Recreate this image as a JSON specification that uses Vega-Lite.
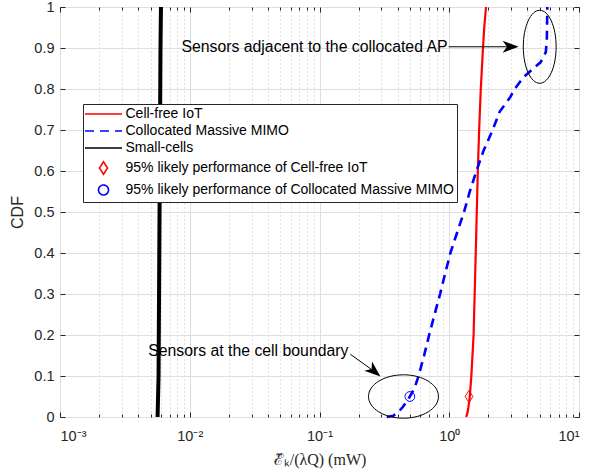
{
  "$schema": "https://vega.github.io/schema/vega-lite/v6.json",
  "width": 519,
  "height": 410,
  "autosize": {"type": "none"},
  "padding": {"left": 60, "top": 7, "right": 15, "bottom": 59},
  "background": "white",
  "config": {
    "view": {"stroke": "#262626", "strokeWidth": 1},
    "axis": {"domain": false, "labelFont": "Liberation Sans", "labelFontSize": 14.5, "labelColor": "#262626", "tickColor": "#262626", "titleColor": "#262626", "gridColor": "#dedede", "gridWidth": 1}
  },
  "datasets": {
    "curves": [
      {"series": "Cell-free IoT", "x": 1.35, "cdf": 0},
      {"series": "Cell-free IoT", "x": 1.38, "cdf": 0.01},
      {"series": "Cell-free IoT", "x": 1.40, "cdf": 0.02},
      {"series": "Cell-free IoT", "x": 1.44, "cdf": 0.05},
      {"series": "Cell-free IoT", "x": 1.48, "cdf": 0.1},
      {"series": "Cell-free IoT", "x": 1.51, "cdf": 0.15},
      {"series": "Cell-free IoT", "x": 1.54, "cdf": 0.2},
      {"series": "Cell-free IoT", "x": 1.57, "cdf": 0.3},
      {"series": "Cell-free IoT", "x": 1.60, "cdf": 0.4},
      {"series": "Cell-free IoT", "x": 1.63, "cdf": 0.5},
      {"series": "Cell-free IoT", "x": 1.66, "cdf": 0.6},
      {"series": "Cell-free IoT", "x": 1.70, "cdf": 0.7},
      {"series": "Cell-free IoT", "x": 1.75, "cdf": 0.8},
      {"series": "Cell-free IoT", "x": 1.82, "cdf": 0.9},
      {"series": "Cell-free IoT", "x": 1.86, "cdf": 0.95},
      {"series": "Cell-free IoT", "x": 1.92, "cdf": 1.0},
      {"series": "Collocated Massive MIMO", "x": 0.33, "cdf": 0},
      {"series": "Collocated Massive MIMO", "x": 0.37, "cdf": 0.003},
      {"series": "Collocated Massive MIMO", "x": 0.40, "cdf": 0.01},
      {"series": "Collocated Massive MIMO", "x": 0.44, "cdf": 0.025},
      {"series": "Collocated Massive MIMO", "x": 0.497, "cdf": 0.05},
      {"series": "Collocated Massive MIMO", "x": 0.54, "cdf": 0.07},
      {"series": "Collocated Massive MIMO", "x": 0.58, "cdf": 0.1},
      {"series": "Collocated Massive MIMO", "x": 0.64, "cdf": 0.15},
      {"series": "Collocated Massive MIMO", "x": 0.70, "cdf": 0.2},
      {"series": "Collocated Massive MIMO", "x": 0.77, "cdf": 0.25},
      {"series": "Collocated Massive MIMO", "x": 0.85, "cdf": 0.3},
      {"series": "Collocated Massive MIMO", "x": 0.93, "cdf": 0.35},
      {"series": "Collocated Massive MIMO", "x": 1.02, "cdf": 0.4},
      {"series": "Collocated Massive MIMO", "x": 1.15, "cdf": 0.45},
      {"series": "Collocated Massive MIMO", "x": 1.30, "cdf": 0.5},
      {"series": "Collocated Massive MIMO", "x": 1.44, "cdf": 0.55},
      {"series": "Collocated Massive MIMO", "x": 1.62, "cdf": 0.6},
      {"series": "Collocated Massive MIMO", "x": 1.84, "cdf": 0.65},
      {"series": "Collocated Massive MIMO", "x": 2.16, "cdf": 0.7},
      {"series": "Collocated Massive MIMO", "x": 2.45, "cdf": 0.745},
      {"series": "Collocated Massive MIMO", "x": 2.95, "cdf": 0.78},
      {"series": "Collocated Massive MIMO", "x": 3.2, "cdf": 0.8},
      {"series": "Collocated Massive MIMO", "x": 3.76, "cdf": 0.83},
      {"series": "Collocated Massive MIMO", "x": 4.45, "cdf": 0.85},
      {"series": "Collocated Massive MIMO", "x": 5.05, "cdf": 0.865},
      {"series": "Collocated Massive MIMO", "x": 5.55, "cdf": 0.89},
      {"series": "Collocated Massive MIMO", "x": 5.65, "cdf": 0.92},
      {"series": "Collocated Massive MIMO", "x": 5.70, "cdf": 1.0},
      {"series": "Small-cells", "x": 0.00565, "cdf": 0},
      {"series": "Small-cells", "x": 0.0057, "cdf": 0.05},
      {"series": "Small-cells", "x": 0.00575, "cdf": 0.1},
      {"series": "Small-cells", "x": 0.0058, "cdf": 0.3},
      {"series": "Small-cells", "x": 0.00585, "cdf": 0.5},
      {"series": "Small-cells", "x": 0.0059, "cdf": 0.7},
      {"series": "Small-cells", "x": 0.00595, "cdf": 0.9},
      {"series": "Small-cells", "x": 0.006, "cdf": 1.0}
    ],
    "mk_cf": [{"series": "95% likely performance of Cell-free IoT", "x": 1.42, "cdf": 0.05}],
    "mk_cm": [{"series": "95% likely performance of Collocated Massive MIMO", "x": 0.497, "cdf": 0.05}],
    "ell_bottom": [{"x": 0.444, "cdf": 0.05}],
    "ell_top": [{"x": 4.98, "cdf": 0.903}],
    "arrows": [
      {"x": 0.99, "cdf": 0.903, "x2": 2.97, "cdf2": 0.903},
      {"x": 0.173, "cdf": 0.153, "x2": 0.262, "cdf2": 0.112}
    ],
    "head_top": [{"x": 2.97, "cdf": 0.903}],
    "head_bottom": [{"x": 0.2645, "cdf": 0.1115}],
    "notes": [
      {"label": "Sensors adjacent to the collocated AP", "x": 0.97, "cdf": 0.903},
      {"label": "Sensors at the cell boundary", "x": 0.167, "cdf": 0.16}
    ]
  },
  "resolve": {"axis": {"x": "independent", "y": "independent"}},
  "layer": [
    {
      "data": {"name": "curves"},
      "transform": [{"filter": "datum.series === 'Cell-free IoT'"}],
      "mark": {"type": "line", "strokeWidth": 2.2},
      "encoding": {
        "x": {"field": "x", "type": "quantitative",
          "scale": {"type": "log", "domain": [0.001, 10], "nice": false},
          "axis": {"orient": "bottom", "values": [0.001, 0.01, 0.1, 1, 10], "ticks": false, "grid": true, "labelPadding": 12,
            "labelExpr": "datum.value < 0.005 ? '10⁻³' : datum.value < 0.05 ? '10⁻²' : datum.value < 0.5 ? '10⁻¹' : datum.value < 5 ? '10⁰' : '10¹'",
            "title": "ℰ̃ₖ/(λQ) (mW)", "titleFont": "Liberation Serif", "titleFontSize": 16, "titleFontWeight": "normal", "titlePadding": 9}},
        "y": {"field": "cdf", "type": "quantitative",
          "scale": {"domain": [0, 1], "nice": false},
          "axis": {"orient": "left", "values": [0, 0.1, 0.2, 0.3, 0.4, 0.5, 0.6, 0.7, 0.8, 0.9, 1], "format": "~g", "ticks": false, "grid": true, "labelPadding": 6,
            "title": "CDF", "titleFont": "Liberation Sans", "titleFontSize": 16, "titleFontWeight": "normal", "titlePadding": 8}},
        "color": {"field": "series", "type": "nominal",
          "scale": {"domain": ["Cell-free IoT", "Collocated Massive MIMO", "Small-cells", "95% likely performance of Cell-free IoT", "95% likely performance of Collocated Massive MIMO"],
                    "range": ["#ff0000", "#0000ff", "#000000", "#ff0000", "#0000ff"]},
          "legend": {"orient": "none", "legendX": 23, "legendY": 97, "title": null, "padding": 3, "rowPadding": 3,
            "labelFont": "Liberation Sans", "labelFontSize": 14, "labelColor": "#000000", "labelLimit": 500,
            "strokeColor": "#262626", "fillColor": "white", "cornerRadius": 0,
            "symbolSize": 100, "symbolStrokeWidth": 1.6, "symbolOffset": 10.5, "labelOffset": 15}},
        "strokeDash": {"field": "series", "type": "nominal",
          "scale": {"domain": ["Cell-free IoT", "Collocated Massive MIMO", "Small-cells", "95% likely performance of Cell-free IoT", "95% likely performance of Collocated Massive MIMO"],
                    "range": [[1, 0], [9, 6], [1, 0], [1, 0], [1, 0]]}},
        "order": {"field": "cdf", "type": "quantitative"}
      }
    },
    {
      "data": {"name": "curves"},
      "transform": [{"filter": "datum.series === 'Collocated Massive MIMO'"}],
      "mark": {"type": "line", "strokeWidth": 2.6},
      "encoding": {
        "x": {"field": "x", "type": "quantitative",
          "axis": {"orient": "bottom", "values": [0.002, 0.003, 0.004, 0.005, 0.006, 0.007, 0.008, 0.009, 0.02, 0.03, 0.04, 0.05, 0.06, 0.07, 0.08, 0.09, 0.2, 0.3, 0.4, 0.5, 0.6, 0.7, 0.8, 0.9, 2, 3, 4, 5, 6, 7, 8, 9], "labels": false, "grid": true, "gridDash": [1, 3], "gridColor": "#c4c4c4", "ticks": true, "tickSize": -3, "title": null}},
        "y": {"field": "cdf", "type": "quantitative",
          "axis": {"orient": "right", "values": [0, 0.1, 0.2, 0.3, 0.4, 0.5, 0.6, 0.7, 0.8, 0.9, 1], "labels": false, "grid": false, "ticks": true, "tickSize": -5, "title": null}},
        "color": {"field": "series", "type": "nominal"},
        "strokeDash": {"field": "series", "type": "nominal"},
        "order": {"field": "cdf", "type": "quantitative"}
      }
    },
    {
      "data": {"name": "curves"},
      "transform": [{"filter": "datum.series === 'Small-cells'"}],
      "mark": {"type": "line", "strokeWidth": 4},
      "encoding": {
        "x": {"field": "x", "type": "quantitative",
          "axis": {"orient": "bottom", "values": [0.001, 0.01, 0.1, 1, 10], "labels": false, "grid": false, "ticks": true, "tickSize": -5, "title": null}},
        "y": {"field": "cdf", "type": "quantitative",
          "axis": {"orient": "left", "values": [0, 0.1, 0.2, 0.3, 0.4, 0.5, 0.6, 0.7, 0.8, 0.9, 1], "labels": false, "grid": false, "ticks": true, "tickSize": -5, "title": null}},
        "color": {"field": "series", "type": "nominal"},
        "strokeDash": {"field": "series", "type": "nominal"},
        "order": {"field": "cdf", "type": "quantitative"}
      }
    },
    {
      "data": {"name": "mk_cf"},
      "mark": {"type": "point", "filled": false, "size": 95, "strokeWidth": 1, "opacity": 1},
      "encoding": {
        "x": {"field": "x", "type": "quantitative",
          "axis": {"orient": "top", "values": [0.001, 0.01, 0.1, 1, 10], "labels": false, "grid": false, "ticks": true, "tickSize": -5, "title": null}},
        "y": {"field": "cdf", "type": "quantitative", "axis": null},
        "color": {"field": "series", "type": "nominal"},
        "shape": {"field": "series", "type": "nominal",
          "scale": {"domain": ["Cell-free IoT", "Collocated Massive MIMO", "Small-cells", "95% likely performance of Cell-free IoT", "95% likely performance of Collocated Massive MIMO"],
                    "range": ["M -3.7 0 L 3.7 0", "M -3.7 0 L 3.7 0", "M -3.7 0 L 3.7 0", "M 0 -1.25 L 0.8 0 L 0 1.25 L -0.8 0 Z", "circle"]}}
      }
    },
    {
      "data": {"name": "mk_cm"},
      "mark": {"type": "point", "filled": false, "size": 95, "strokeWidth": 1, "opacity": 1},
      "encoding": {
        "x": {"field": "x", "type": "quantitative",
          "axis": {"orient": "top", "values": [0.002, 0.003, 0.004, 0.005, 0.006, 0.007, 0.008, 0.009, 0.02, 0.03, 0.04, 0.05, 0.06, 0.07, 0.08, 0.09, 0.2, 0.3, 0.4, 0.5, 0.6, 0.7, 0.8, 0.9, 2, 3, 4, 5, 6, 7, 8, 9], "labels": false, "grid": false, "ticks": true, "tickSize": -3, "title": null}},
        "y": {"field": "cdf", "type": "quantitative", "axis": null},
        "color": {"field": "series", "type": "nominal"},
        "shape": {"field": "series", "type": "nominal"}
      }
    },
    {
      "data": {"name": "ell_bottom"},
      "mark": {"type": "point", "filled": false, "shape": "M -1 0 A 1 0.62 0 1 0 1 0 A 1 0.62 0 1 0 -1 0 Z", "size": 4900, "stroke": "#000000", "strokeWidth": 1, "opacity": 1},
      "encoding": {
        "x": {"field": "x", "type": "quantitative", "axis": null},
        "y": {"field": "cdf", "type": "quantitative", "axis": null}
      }
    },
    {
      "data": {"name": "ell_top"},
      "mark": {"type": "point", "filled": false, "shape": "M 0 -1 A 0.45 1 0 1 0 0 1 A 0.45 1 0 1 0 0 -1 Z", "size": 5329, "stroke": "#000000", "strokeWidth": 1, "opacity": 1},
      "encoding": {
        "x": {"field": "x", "type": "quantitative", "axis": null},
        "y": {"field": "cdf", "type": "quantitative", "axis": null}
      }
    },
    {
      "data": {"name": "arrows"},
      "mark": {"type": "rule", "color": "#000000", "strokeWidth": 1},
      "encoding": {
        "x": {"field": "x", "type": "quantitative", "axis": null},
        "x2": {"field": "x2"},
        "y": {"field": "cdf", "type": "quantitative", "axis": null},
        "y2": {"field": "cdf2"}
      }
    },
    {
      "data": {"name": "head_top"},
      "mark": {"type": "point", "filled": true, "shape": "M 1 0 L -1 -0.75 L -0.45 0 L -1 0.75 Z", "size": 256, "color": "#000000", "opacity": 1, "angle": 0},
      "encoding": {
        "x": {"field": "x", "type": "quantitative", "axis": null},
        "y": {"field": "cdf", "type": "quantitative", "axis": null}
      }
    },
    {
      "data": {"name": "head_bottom"},
      "mark": {"type": "point", "filled": true, "shape": "M 1 0 L -1 -0.75 L -0.45 0 L -1 0.75 Z", "size": 256, "color": "#000000", "opacity": 1, "angle": 40},
      "encoding": {
        "x": {"field": "x", "type": "quantitative", "axis": null},
        "y": {"field": "cdf", "type": "quantitative", "axis": null}
      }
    },
    {
      "data": {"name": "notes"},
      "mark": {"type": "text", "align": "right", "baseline": "middle", "font": "Liberation Sans", "fontSize": 15.8, "color": "#000000"},
      "encoding": {
        "x": {"field": "x", "type": "quantitative", "axis": null},
        "y": {"field": "cdf", "type": "quantitative", "axis": null},
        "text": {"field": "label"}
      }
    }
  ]
}
